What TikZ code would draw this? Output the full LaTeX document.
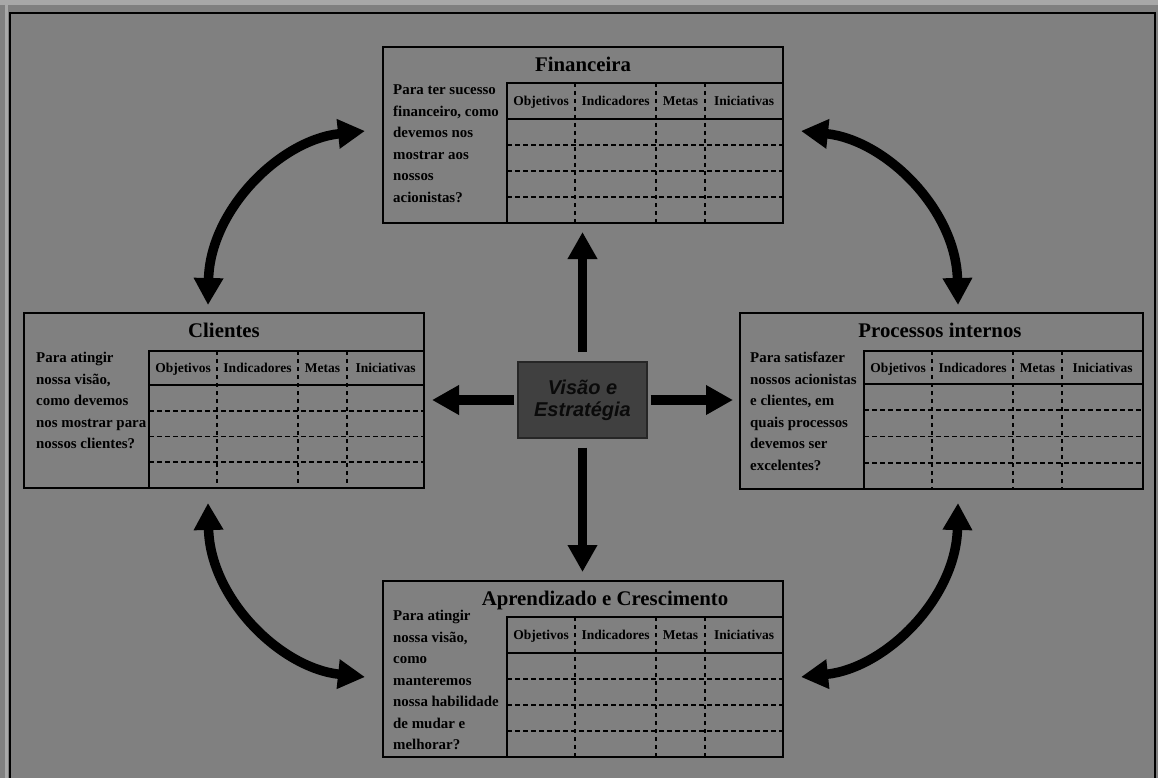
\documentclass[tikz,border=0pt]{standalone}
\usepackage{fontspec}
\setmainfont{Liberation Serif}
\setsansfont{Liberation Sans}
\usetikzlibrary{arrows.meta}

\definecolor{pagegray}{HTML}{808080}
\definecolor{bandgray}{HTML}{A8A8A8}
\definecolor{corefill}{HTML}{404040}
\definecolor{coreink}{HTML}{0A0A0A}

\tikzset{
  card/.style={draw=black, line width=2.4pt, inner sep=0pt, outer sep=0pt},
  tabframe/.style={draw=black, line width=2.2pt},
  rowrule/.style={line width=1.9pt, dash pattern=on 5pt off 3pt},
  colrule/.style={line width=1.9pt, dash pattern=on 4pt off 4pt},
  colhead/.style={font=\fontsize{13.5}{15}\selectfont\bfseries, inner sep=0pt,
    text height=9.5pt, text depth=0pt},
  cardtitle/.style={font=\fontsize{20.8}{24}\selectfont\bfseries, inner sep=0pt, anchor=base},
  question/.style={font=\fontsize{14.9}{21.5}\selectfont\bfseries, align=left,
    inner sep=0pt, anchor=north west},
  core/.style={fill=corefill, draw=black!85, line width=1.2pt, minimum width=129pt,
    minimum height=76pt, font=\fontsize{20}{22}\selectfont\sffamily\bfseries\itshape,
    text=coreink, align=center, inner sep=0pt},
  thick arrow/.style={line width=9.5pt, -{Triangle[length=27pt,width=28pt]}},
  double arrow/.style={line width=9.5pt,
    {Triangle[length=27pt,width=28pt]}-{Triangle[length=27pt,width=28pt]}},
}

% A perspective card: #1 name, (#2,#3)-(#4,#5) outer frame,
% (#6,#7) top left corner of the table, #8 y of the header rule
\newcommand\bsccard[8]{%
  \node[card, minimum width={#4-#2}, minimum height={#5-#3}] (#1)
    at ({(#2+#4)/2},{(#3+#5)/2}) {};
  \pgfmathsetmacro\rowh{(#5-#8)/4}
  \foreach \k in {1,2,3}
    \draw[rowrule] (#6,{#8+\k*\rowh}) -- (#4,{#8+\k*\rowh});
  \foreach \cx in {68,149,198}
    \draw[colrule] ({#6+\cx},#7) -- ({#6+\cx},#5);
  \draw[tabframe] (#6,#7) rectangle (#4,#5);
  \draw[tabframe] (#6,#8) -- (#4,#8);
  \node[colhead] (#1-h1) at ({#6+34},{(#7+#8)/2}) {Objetivos};
  \node[colhead] (#1-h2) at ({#6+108.5},{(#7+#8)/2}) {Indicadores};
  \node[colhead] (#1-h3) at ({#6+173.5},{(#7+#8)/2}) {Metas};
  \node[colhead] (#1-h4) at ({(#6+198+#4)/2},{(#7+#8)/2}) {Iniciativas};
}

\begin{document}
\begin{tikzpicture}[x=1pt, y=-1pt]
  \useasboundingbox (0,0) rectangle (1158,778);

  % page
  \fill[pagegray] (0,0) rectangle (1158,778);
  \fill[bandgray] (0,0) rectangle (1158,5);
  \fill[bandgray] (5,5) rectangle (8,778);
  \draw[black, line width=2pt] (10,780) -- (10,13) -- (1155,13) -- (1155,780);

  % the four perspectives
  \bsccard{fin}{383}{47}{783}{223}{507}{83}{119}
  \node[cardtitle] (fin-t) at (583,72) {Financeira};
  \node[question] (fin-q) at (393,85)
    {Para ter sucesso\\financeiro, como\\devemos nos\\mostrar aos\\nossos\\acionistas?};

  \bsccard{cli}{24}{313}{424}{488}{149}{351}{385}
  \node[cardtitle] (cli-t) at (224,337) {Clientes};
  \node[question] (cli-q) at (36,352)
    {Para atingir\\nossa visão,\\como devemos\\nos mostrar para\\nossos clientes?};

  \bsccard{pro}{740}{313}{1143}{489}{864}{351}{384}
  \node[cardtitle] (pro-t) at (940,337) {Processos internos};
  \node[question] (pro-q) at (750,352)
    {Para satisfazer\\nossos acionistas\\e clientes, em\\quais processos\\devemos ser\\excelentes?};

  \bsccard{apr}{383}{581}{783}{757}{507}{617}{653}
  \node[cardtitle] (apr-t) at (605,605) {Aprendizado e Crescimento};
  \node[question] (apr-q) at (393,610)
    {Para atingir\\nossa visão,\\como\\manteremos\\nossa habilidade\\de mudar e\\melhorar?};

  % vision and strategy at the centre
  \node[core] (vis) at (582.5,400) {Visão e\\Estratégia};

  \draw[thick arrow, shorten <=9pt, shorten >=9pt] (vis.north) -- (vis.north |- fin.south);
  \draw[thick arrow, shorten <=9pt, shorten >=9pt] (vis.south) -- (vis.south |- apr.north);
  \draw[thick arrow, shorten <=3pt, shorten >=8pt] (vis.west) -- (vis.west -| cli.east);
  \draw[thick arrow, shorten <=3pt, shorten >=7pt] (vis.east) -- (vis.east -| pro.west);

  % links between neighbouring perspectives
  \coordinate (tl-a) at ([shift={(184,-8)}]cli.north west);
  \coordinate (tl-b) at ([shift={(-18,84)}]fin.north west);
  \coordinate (tr-a) at ([shift={(-185,-8)}]pro.north east);
  \coordinate (tr-b) at ([shift={(18,84)}]fin.north east);
  \coordinate (bl-a) at ([shift={(184,15)}]cli.south west);
  \coordinate (bl-b) at ([shift={(-18,-80)}]apr.south west);
  \coordinate (br-a) at ([shift={(-185,14)}]pro.south east);
  \coordinate (br-b) at ([shift={(18,-80)}]apr.south east);

  \draw[double arrow] (tl-a) .. controls (210,210) and (280,140) .. (tl-b);
  \draw[double arrow] (tr-a) .. controls (956,210) and (886,140) .. (tr-b);
  \draw[double arrow] (bl-a) .. controls (210,598) and (280,668) .. (bl-b);
  \draw[double arrow] (br-a) .. controls (956,598) and (886,668) .. (br-b);
\end{tikzpicture}
\end{document}
